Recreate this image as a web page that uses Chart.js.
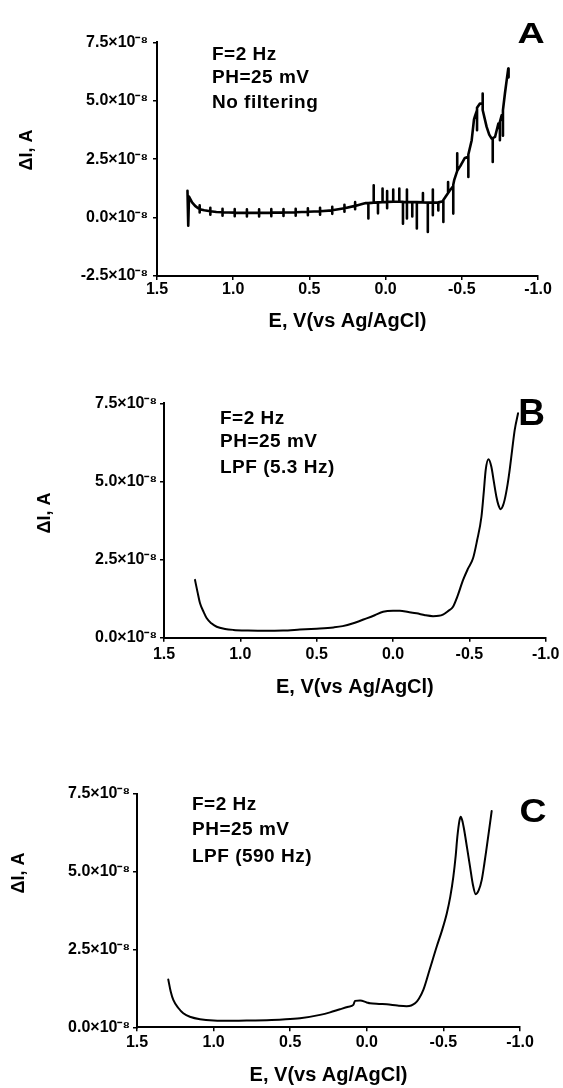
<!DOCTYPE html>
<html>
<head>
<meta charset="utf-8">
<script src="https://cdn.jsdelivr.net/npm/chart.js@4.4.1/dist/chart.umd.min.js"></script>
<style>
html,body{margin:0;padding:0;background:#fff;}
#wrap{position:relative;width:563px;height:1088px;overflow:hidden;background:#fff;}
#wrap canvas{position:absolute;left:0;}
</style>
</head>
<body>
<div id="wrap">
<canvas id="cA" width="563" height="340" style="top:0px"></canvas>
<canvas id="cB" width="563" height="370" style="top:340px"></canvas>
<canvas id="cC" width="563" height="378" style="top:710px"></canvas>
</div>
<script>
// ---------- DATA (current in units of 10^-8 A, potential in V vs Ag/AgCl) ----------
const xTickValues = [1.5, 1.0, 0.5, 0.0, -0.5, -1.0];
const xTickLabels = ['1.5', '1.0', '0.5', '0.0', '-0.5', '-1.0'];
const yTickValuesA = [-2.5, 0, 2.5, 5.0, 7.5];
const yTickLabelsA = ['-2.5×10⁻⁸', '0.0×10⁻⁸', '2.5×10⁻⁸', '5.0×10⁻⁸', '7.5×10⁻⁸'];
const yTickValuesBC = [0, 2.5, 5.0, 7.5];
const yTickLabelsBC = ['0.0×10⁻⁸', '2.5×10⁻⁸', '5.0×10⁻⁸', '7.5×10⁻⁸'];
const xTitleText = 'E, V(vs Ag/AgCl)';
const yTitleText = 'ΔI, A';
const notesA = ['F=2 Hz', 'PH=25 mV', 'No filtering'];
const notesB = ['F=2 Hz', 'PH=25 mV', 'LPF (5.3 Hz)'];
const notesC = ['F=2 Hz', 'PH=25 mV', 'LPF (590 Hz)'];

// Panel A: no filtering (noisy trace, read point by point)
const potentialA = [
  1.30, 1.295, 1.29, 1.27, 1.25, 1.23, 1.22, 1.22, 1.22, 1.22,
  1.19, 1.15, 1.15, 1.15, 1.15, 1.11, 1.07, 1.07, 1.07, 1.07,
  0.99, 0.99, 0.99, 0.99, 0.91, 0.91, 0.91, 0.91, 0.83, 0.83,
  0.83, 0.83, 0.75, 0.75, 0.75, 0.75, 0.67, 0.67, 0.67, 0.67,
  0.59, 0.59, 0.59, 0.59, 0.51, 0.51, 0.51, 0.51, 0.43, 0.43,
  0.43, 0.43, 0.35, 0.35, 0.35, 0.35, 0.27, 0.27, 0.27, 0.27,
  0.20, 0.20, 0.20, 0.20, 0.16, 0.13, 0.113, 0.113, 0.113, 0.078,
  0.078, 0.078, 0.05, 0.05, 0.05, 0.02, 0.02, 0.02, -0.01, -0.01,
  -0.01, -0.01, -0.05, -0.05, -0.05, -0.09, -0.09, -0.09, -0.114, -0.114,
  -0.114, -0.14, -0.14, -0.14, -0.14, -0.175, -0.175, -0.175, -0.205, -0.205,
  -0.205, -0.245, -0.245, -0.245, -0.277, -0.277, -0.277, -0.31, -0.31, -0.31,
  -0.31, -0.346, -0.346, -0.346, -0.379, -0.379, -0.379, -0.41, -0.41, -0.41,
  -0.42, -0.444, -0.444, -0.444, -0.45, -0.47, -0.47, -0.47, -0.49, -0.52,
  -0.543, -0.543, -0.543, -0.565, -0.58, -0.587, -0.60, -0.60, -0.60, -0.619,
  -0.637, -0.637, -0.637, -0.663, -0.68, -0.696, -0.703, -0.703, -0.703, -0.718,
  -0.74, -0.75, -0.75, -0.75, -0.762, -0.77, -0.77, -0.77, -0.783, -0.795,
  -0.805, -0.807
];
const currentA = [
  1.15, -0.35, 0.90, 0.65, 0.50, 0.40, 0.36, 0.52, 0.22, 0.36,
  0.31, 0.27, 0.42, 0.12, 0.27, 0.24, 0.23, 0.38, 0.08, 0.23,
  0.21, 0.36, 0.06, 0.21, 0.20, 0.35, 0.05, 0.20, 0.20, 0.35,
  0.05, 0.20, 0.21, 0.36, 0.06, 0.21, 0.22, 0.37, 0.07, 0.22,
  0.23, 0.38, 0.08, 0.23, 0.25, 0.40, 0.10, 0.25, 0.27, 0.42,
  0.12, 0.27, 0.31, 0.46, 0.16, 0.31, 0.40, 0.55, 0.25, 0.40,
  0.50, 0.66, 0.36, 0.50, 0.57, 0.62, 0.62, -0.04, 0.62, 0.64,
  1.38, 0.64, 0.65, 0.18, 0.65, 0.66, 1.24, 0.66, 0.67, 1.14,
  0.40, 0.67, 0.68, 1.20, 0.68, 0.68, 1.24, 0.68, 0.67, -0.26,
  0.67, 0.66, 1.20, -0.04, 0.66, 0.66, 0.05, 0.66, 0.66, -0.47,
  0.66, 0.65, 1.05, 0.65, 0.64, -0.62, 0.64, 0.64, 1.20, 0.10,
  0.64, 0.65, 0.30, 0.65, 0.70, -0.19, 0.75, 1.05, 1.52, 1.05,
  1.15, 1.35, 0.17, 1.40, 1.60, 2.00, 2.75, 2.00, 2.20, 2.55,
  2.60, 1.74, 2.70, 3.31, 4.20, 4.35, 4.60, 3.74, 4.70, 4.88,
  4.85, 5.31, 4.60, 3.88, 3.55, 3.38, 3.38, 2.38, 3.40, 3.45,
  4.02, 4.00, 3.31, 4.10, 4.38, 4.40, 3.50, 4.60, 5.31, 5.90,
  6.38, 6.00
];

// Panel B: LPF 5.3 Hz
const potentialB = [
  1.297, 1.28, 1.264, 1.24, 1.22, 1.19, 1.155, 1.10, 1.046, 0.95,
  0.83, 0.72, 0.61, 0.50, 0.39, 0.33, 0.25, 0.173, 0.12, 0.065,
  0.0, -0.045, -0.10, -0.154, -0.21, -0.262, -0.30, -0.327, -0.36, -0.393,
  -0.42, -0.459, -0.49, -0.524, -0.55, -0.579, -0.595, -0.607, -0.625, -0.644,
  -0.66, -0.677, -0.69, -0.705, -0.718, -0.731, -0.75, -0.764, -0.78, -0.797,
  -0.819
];
const currentB = [
  1.85, 1.45, 1.10, 0.82, 0.62, 0.46, 0.35, 0.28, 0.25, 0.23,
  0.22, 0.23, 0.26, 0.29, 0.33, 0.37, 0.48, 0.62, 0.72, 0.83,
  0.86, 0.86, 0.82, 0.78, 0.72, 0.69, 0.70, 0.74, 0.85, 0.99,
  1.30, 1.85, 2.20, 2.54, 3.10, 3.87, 4.70, 5.37, 5.71, 5.47,
  5.00, 4.51, 4.25, 4.11, 4.20, 4.41, 4.90, 5.37, 6.00, 6.65,
  7.18
];

// Panel C: LPF 590 Hz
const potentialC = [
  1.296, 1.28, 1.263, 1.23, 1.198, 1.15, 1.089, 1.0, 0.871, 0.75,
  0.653, 0.55, 0.436, 0.305, 0.24, 0.175, 0.12, 0.088, 0.077, 0.044,
  0.0, -0.021, -0.08, -0.13, -0.20, -0.26, -0.29, -0.315, -0.34, -0.369,
  -0.41, -0.456, -0.49, -0.522, -0.545, -0.565, -0.58, -0.591, -0.605, -0.613,
  -0.623, -0.634, -0.655, -0.674, -0.692, -0.711, -0.73, -0.75, -0.767, -0.783,
  -0.80, -0.815
];
const currentC = [
  1.54, 1.15, 0.88, 0.62, 0.45, 0.33, 0.26, 0.22, 0.21, 0.22,
  0.23, 0.25, 0.29, 0.40, 0.48, 0.58, 0.66, 0.72, 0.85, 0.86,
  0.80, 0.77, 0.75, 0.74, 0.70, 0.68, 0.70, 0.77, 0.92, 1.20,
  1.85, 2.59, 3.10, 3.66, 4.20, 4.84, 5.50, 6.12, 6.65, 6.77,
  6.65, 6.39, 5.75, 5.16, 4.60, 4.28, 4.40, 4.73, 5.25, 5.80,
  6.40, 6.95
];

// ---------- STYLE / LAYOUT ----------
const FAMILY = '"Liberation Sans", Arial, Helvetica, sans-serif';
const tickFont = { family: FAMILY, size: 16, weight: 'bold' };
const titleFont = { family: FAMILY, size: 20, weight: 'bold' };

function panelPlugin(p) {
  return {
    id: 'panelText',
    afterDraw(chart) {
      const ctx = chart.ctx;
      ctx.save();
      ctx.fillStyle = '#000';
      ctx.textBaseline = 'alphabetic';
      // annotation lines
      ctx.textAlign = 'left';
      ctx.font = 'bold 19px ' + FAMILY;
      if ('letterSpacing' in ctx) ctx.letterSpacing = '0.5px';
      p.notes.forEach((t, i) => ctx.fillText(t, p.noteX, p.noteBase[i]));
      if ('letterSpacing' in ctx) ctx.letterSpacing = '0px';
      // panel letter
      ctx.save();
      ctx.translate(p.letterX, p.letterBase);
      ctx.scale(p.letterScaleX, 1);
      ctx.textAlign = 'center';
      ctx.font = 'bold ' + p.letterSize + 'px ' + FAMILY;
      ctx.fillText(p.letter, 0, 0);
      ctx.restore();
      // y axis title (rotated)
      ctx.save();
      ctx.translate(p.yTitleX, p.yTitleY);
      ctx.rotate(-Math.PI / 2);
      ctx.textAlign = 'center';
      ctx.font = 'bold 18px ' + FAMILY;
      ctx.fillText(yTitleText, 0, 6.5);
      ctx.restore();
      ctx.restore();
    }
  };
}

function buildPanel(id, xs, ys, yTickValues, yTickLabels, p) {
  const canvas = document.getElementById(id);
  const H = canvas.height;
  return new Chart(canvas, {
    type: 'scatter',
    data: {
      datasets: [{
        data: xs.map((x, i) => ({ x: x, y: ys[i] })),
        showLine: true,
        borderColor: '#000',
        backgroundColor: '#000',
        borderWidth: p.lineWidth,
        pointRadius: 0,
        pointHoverRadius: 0,
        tension: p.tension,
        cubicInterpolationMode: p.tension > 0 ? 'monotone' : 'default',
        borderJoinStyle: 'round',
        borderCapStyle: 'round',
        fill: false
      }]
    },
    options: {
      responsive: false,
      animation: false,
      devicePixelRatio: 1,
      events: [],
      layout: { padding: { left: 0, top: p.area.top, right: 563 - p.area.right, bottom: 0 } },
      plugins: { legend: { display: false }, tooltip: { enabled: false }, title: { display: false } },
      scales: {
        x: {
          type: 'linear', position: 'bottom', reverse: true, min: -1.0, max: 1.5,
          afterFit: s => { s.height = H - p.area.bottom; },
          afterBuildTicks: s => { s.ticks = xTickValues.map(v => ({ value: v })); },
          border: { display: true, color: '#000', width: 2 },
          grid: { display: true, drawOnChartArea: false, drawTicks: true, tickLength: 4, color: '#000', lineWidth: 1.5 },
          ticks: {
            color: '#000', font: tickFont, padding: p.xTickPad, maxRotation: 0, autoSkip: false,
            callback: v => xTickLabels[xTickValues.indexOf(v)]
          },
          title: { display: true, text: xTitleText, color: '#000', font: titleFont, padding: { top: 0, bottom: p.xTitlePad } }
        },
        y: {
          type: 'linear', position: 'left', min: yTickValues[0], max: yTickValues[yTickValues.length - 1],
          afterFit: s => { s.width = p.area.left; },
          afterBuildTicks: s => { s.ticks = yTickValues.map(v => ({ value: v })); },
          border: { display: true, color: '#000', width: 2 },
          grid: { display: true, drawOnChartArea: false, drawTicks: true, tickLength: 4, color: '#000', lineWidth: 1.5 },
          ticks: {
            color: '#000', font: tickFont, padding: p.yTickPad, autoSkip: false,
            callback: v => yTickLabels[yTickValues.indexOf(v)]
          },
          title: { display: false }
        }
      }
    },
    plugins: [panelPlugin(p)]
  });
}

buildPanel('cA', potentialA, currentA, yTickValuesA, yTickLabelsA, {
  area: { left: 157, right: 538, top: 42.3, bottom: 276 },
  lineWidth: 2.6, tension: 0, xTickPad: 0, yTickPad: 5, xTitlePad: 7,
  notes: notesA, noteX: 212, noteBase: [60, 83.3, 108.3],
  letter: 'A', letterX: 531, letterBase: 43, letterSize: 29, letterScaleX: 1.3,
  yTitleX: 25, yTitleY: 150
});
buildPanel('cB', potentialB, currentB, yTickValuesBC, yTickLabelsBC, {
  area: { left: 164, right: 546, top: 63.3, bottom: 297.7 },
  lineWidth: 2, tension: 0.4, xTickPad: 3.5, yTickPad: 3, xTitlePad: 11,
  notes: notesB, noteX: 220, noteBase: [84, 106.7, 133.3],
  letter: 'B', letterX: 531.5, letterBase: 85, letterSize: 37, letterScaleX: 1.0,
  yTitleX: 43, yTitleY: 173
});
buildPanel('cC', potentialC, currentC, yTickValuesBC, yTickLabelsBC, {
  area: { left: 137, right: 520, top: 84, bottom: 317.3 },
  lineWidth: 2, tension: 0.4, xTickPad: 2, yTickPad: 3, xTitlePad: 1,
  notes: notesC, noteX: 192, noteBase: [100, 125, 151.7],
  letter: 'C', letterX: 533, letterBase: 112, letterSize: 34, letterScaleX: 1.1,
  yTitleX: 17, yTitleY: 163
});
</script>
</body>
</html>
